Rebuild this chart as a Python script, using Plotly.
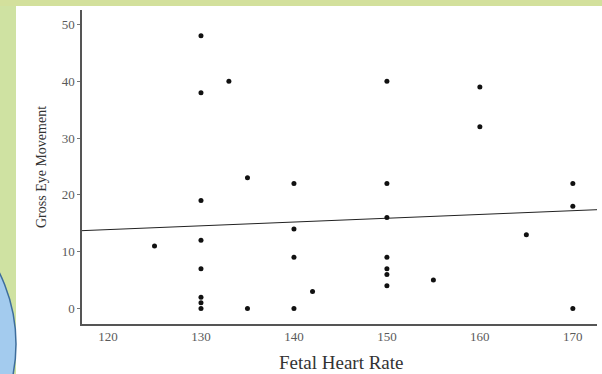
import plotly.graph_objects as go

# Data
heart_rate = [125, 130, 130, 130, 130, 130, 130, 130, 130, 133, 135, 135,
              140, 140, 140, 140, 142, 150, 150, 150, 150, 150, 150, 150,
              155, 160, 160, 165, 170, 170, 170]
eye_movement = [11, 48, 38, 19, 12, 7, 2, 1, 0, 40, 23, 0,
                22, 14, 9, 0, 3, 40, 22, 16, 9, 7, 6, 4,
                5, 39, 32, 13, 22, 18, 0]

# Fitted line as drawn (values read at the axis ends)
fit_x = [117.2, 172.7]
fit_y = [13.7, 17.4]

x_ticks = [120, 130, 140, 150, 160, 170]
y_ticks = [0, 10, 20, 30, 40, 50]

FONT = "Liberation Serif"

fig = go.Figure()
fig.add_trace(go.Scatter(x=fit_x, y=fit_y, mode="lines",
                         line=dict(color="#222222", width=1), hoverinfo="skip"))
fig.add_trace(go.Scatter(x=heart_rate, y=eye_movement, mode="markers",
                         marker=dict(color="#111111", size=5, symbol="circle")))

L, R, T, B = 82, 5, 10, 50
W, H = 602, 374
pw, ph = W - L - R, H - T - B


def px(x):
    return (x - L) / pw


def py(y):
    return (H - B - y) / ph


shapes = [
    # green left band
    dict(type="rect", xref="paper", yref="paper", x0=px(0), x1=px(16), y0=py(374), y1=py(0),
         fillcolor="#cfe2a2", line=dict(width=0), layer="below"),
    # green top band
    dict(type="rect", xref="paper", yref="paper", x0=px(0), x1=px(602), y0=py(6), y1=py(0),
         fillcolor="#d3e09c", line=dict(width=0), layer="below"),
    # blue circle at lower left
    dict(type="circle", xref="paper", yref="paper", x0=px(-306), x1=px(16), y0=py(505), y1=py(183),
         fillcolor="#a3cbee", line=dict(color="#3d6d9c", width=1.5), layer="below"),
]

fig.update_layout(
    width=W, height=H,
    margin=dict(l=L, r=R, t=T, b=B, autoexpand=False),
    paper_bgcolor="white", plot_bgcolor="white",
    showlegend=False,
    shapes=shapes,
    font=dict(family=FONT, color="#333333"),
    annotations=[dict(text="Fetal Heart Rate", xref="paper", yref="paper",
                      x=px(341), y=py(362), xanchor="center", yanchor="middle",
                      showarrow=False, font=dict(family=FONT, size=19, color="#333333"))],
    xaxis=dict(range=[117.2, 172.6], tickvals=x_ticks, showgrid=False, zeroline=False,
               automargin=False,
               showline=True, linecolor="#555555", linewidth=1.5, ticks="",
               tickfont=dict(family=FONT, size=13, color="#5a5a5a")),
    yaxis=dict(range=[-2.73, 52.55], tickvals=y_ticks, showgrid=False, zeroline=False,
               automargin=False,
               showline=True, linecolor="#555555", linewidth=1.5, ticks="outside", ticklen=3,
               tickcolor="#777777",
               tickfont=dict(family=FONT, size=13, color="#5a5a5a"),
               title=dict(text="Gross Eye Movement", font=dict(family=FONT, size=14, color="#333333"),
                          standoff=12)),
)

fig.write_html("out.html")
